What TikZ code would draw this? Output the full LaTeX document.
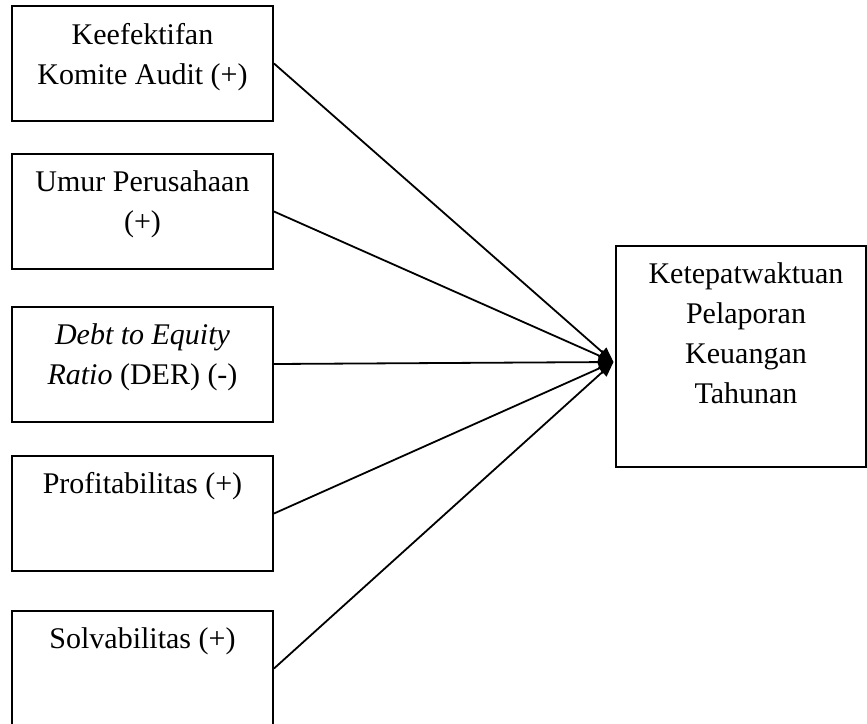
\documentclass[tikz,border=0pt]{standalone}
\usepackage{fontspec}
\setmainfont{Liberation Serif}
\usetikzlibrary{arrows.meta,calc}
\begin{document}
\begin{tikzpicture}[x=1pt,y=-1pt,
  box/.style={draw=black,line width=2pt,minimum width=261pt,minimum height=115pt,inner sep=0pt},
  bigbox/.style={draw=black,line width=2pt,minimum width=250pt,minimum height=221pt,inner sep=0pt},
  lbl/.style={anchor=north,inner sep=0pt,align=center,font=\fontsize{30}{40}\selectfont},
  conn/.style={line width=1.8pt,-{Triangle[length=15pt,width=12pt]}}]
\useasboundingbox (0,0) rectangle (867,723);
\node[box] (b1) at (142.5,63.5) {};
\node[box] (b2) at (142.5,211.5) {};
\node[box] (b3) at (142.5,364) {};
\node[box] (b4) at (142.5,513.5) {};
\node[box] (b5) at (142.5,668.5) {};
\node[bigbox] (r) at (741,356.5) {};
\node[lbl] (t1) at ([yshift=-18pt]b1.north) {Keefektifan\\Komite Audit (+)};
\node[lbl] (t2) at ([yshift=-17pt]b2.north) {Umur Perusahaan\\(+)};
\node[lbl] (t3) at ([yshift=-18pt]b3.north) {\itshape Debt to Equity\\\textit{Ratio} (DER) (-)};
\node[lbl] (t4) at ([yshift=-17pt]b4.north) {Profitabilitas (+)};
\node[lbl] (t5) at ([yshift=-17pt]b5.north) {Solvabilitas (+)};
\node[lbl] (tr) at ([xshift=5pt,yshift=-17pt]r.north) {Ketepatwaktuan\\Pelaporan\\Keuangan\\Tahunan};
\coordinate (tip) at ([xshift=-1.5pt,yshift=-5.5pt]r.west);
\draw[conn] (b1.east) -- (tip);
\draw[conn] (b2.east) -- (tip);
\draw[conn] (b3.east) -- (tip);
\draw[conn] (b4.east) -- (tip);
\draw[conn] (b5.east) -- (tip);
\end{tikzpicture}
\end{document}
